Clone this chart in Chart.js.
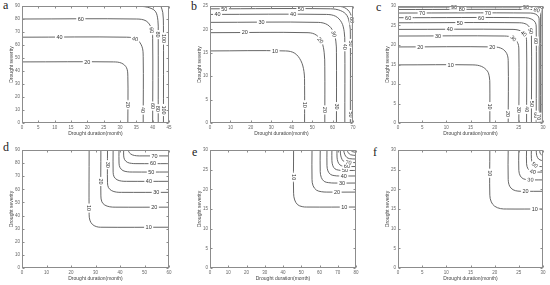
<!DOCTYPE html>
<html><head><meta charset="utf-8">
<script src="https://cdn.jsdelivr.net/npm/chart.js@4"></script>
<style>
body{margin:0;background:#fff;width:550px;height:285px;position:relative;overflow:hidden;font-family:"Liberation Sans",Arial,sans-serif}
canvas{position:absolute}
.lab{position:absolute;font-family:"Liberation Serif","DejaVu Serif",serif;font-size:12px;color:#222;line-height:1}
</style></head><body>
<div class="lab" style="left:3px;top:-1px">a</div>
<div class="lab" style="left:191px;top:0px">b</div>
<div class="lab" style="left:376px;top:1px">c</div>
<div class="lab" style="left:3px;top:141px">d</div>
<div class="lab" style="left:192px;top:146px">e</div>
<div class="lab" style="left:373px;top:146px">f</div>
<script>
// ---- data ----
const xLabel = 'Drought duration(month)';
const yLabel = 'Drought severity';
const xMax = [45, 70, 30, 60, 80, 30];
const yMax = [90, 25, 30, 90, 30, 30];
const xStep = [5, 10, 5, 10, 10, 5];
const yStep = [10, 5, 5, 10, 5, 5];

const levelsA = [20, 40, 60, 80, 100];
const contoursA = [
  [[0,47],[28,47],[30.5,46],[32,42.5],[32.4,36],[32.4,0]],
  [[0,66],[32,66],[35,64.5],[36.7,59],[37.1,51],[37.1,0]],
  [[0,80],[35,80],[38,78.5],[39.6,73],[40,65],[40,0]],
  [[35,90],[38.5,89],[40.8,86],[41.6,79],[41.7,70],[41.7,0]],
  [[42.5,90],[43.1,85],[43.3,75],[43.3,0]]
];
const labelsA = [[20,20,47],[40,11.5,66],[60,18,80],[40,34.5,63],[60,38.8,71],[80,41.7,68],[100,43.3,65],
  [20,32.4,14],[40,37.1,10],[60,40,13],[80,41.7,11],[100,43.3,10]];

const levelsB = [10, 20, 30, 40, 50, 60];
const contoursB = [
  [[0,15.4],[37,15.4],[41.5,14.9],[44.5,13.3],[46,11],[46.3,8],[46.3,0]],
  [[0,19.3],[48,19.3],[52,18.8],[54.7,17.3],[55.9,15],[56.2,12],[56.2,0]],
  [[0,21.5],[53,21.5],[57.5,21],[60.3,19.6],[61.6,17.5],[61.9,15],[61.9,0]],
  [[0,23.2],[57,23.2],[61.5,22.8],[64.4,21.5],[65.7,19.5],[66,17],[66,0]],
  [[0,24.4],[59,24.4],[64,24],[67,23],[68.4,21],[68.7,19],[68.7,0]],
  [[60,25],[65,24.8],[68.2,23.8],[69.5,22],[69.7,19],[69.7,0]]
];
const labelsB = [[10,31.8,15.4],[10,46.3,3.9],[20,17,19.3],[20,53.5,17.5],[20,56.2,2.8],[30,25.2,21.5],[30,60.5,19],[30,61.9,3.5],
  [40,3.7,23.2],[40,40.7,23.2],[40,66,16.3],[50,7,24.4],[50,44.5,24.4],[50,68.7,17],[50,68.7,1.8],[60,69.7,22]];

const levelsC = [10, 20, 30, 40, 50, 60, 70, 80, 90];
const contoursC = [
  [[0,14.9],[15.5,14.9],[17.3,14.5],[18.5,13.3],[18.9,11.8],[19,10],[19,0]],
  [[0,19.5],[20,19.5],[21.6,19],[22.5,17.8],[22.8,16],[22.8,0]],
  [[0,22.3],[22,22.3],[23.7,21.9],[24.7,20.7],[25,19],[25,0]],
  [[0,24],[23.8,24],[25.4,23.6],[26.3,22.6],[26.6,21],[26.6,0]],
  [[0,25.7],[25.2,25.7],[26.6,25.3],[27.3,24.4],[27.6,23],[27.6,0]],
  [[0,27],[26.4,27],[27.7,26.6],[28.4,25.8],[28.6,24.6],[28.6,0]],
  [[0,28.2],[27.4,28.2],[28.5,27.9],[29.1,27.2],[29.2,26.2],[29.2,0]],
  [[0,29.1],[28.3,29.1],[29.1,28.8],[29.45,28.2],[29.5,27.4],[29.5,0]],
  [[0,29.7],[29,29.7],[29.6,29.5],[29.8,29],[29.8,0]]
];
const labelsC = [[10,10.9,14.9],[10,19,4.2],[20,4.6,19.5],[20,19.5,19.5],[20,22.8,2.3],[30,8.3,22.3],[30,23.8,21.6],[30,25,3.4],
  [40,10.7,24],[40,26,22.9],[40,26.6,3.5],[50,12.8,25.7],[50,27.3,23.5],[50,27.6,4.9],[60,2.1,27],[60,17.2,27],[60,28.6,2],[60,28.6,21],
  [70,5,28.2],[70,18.6,28.2],[70,29.2,1.5],[80,13.2,29.1],[80,28.6,28.6],[90,11.6,29.7],[90,26.5,29.7]];

const levelsD = [10, 20, 30, 40, 50, 60, 70];
const contoursD = [
  [[27.4,90],[27.4,41],[27.7,36.5],[28.7,33.3],[30.3,31.6],[32,31.1],[60,31.1]],
  [[32.2,90],[32.2,55],[32.6,50.5],[33.8,48],[35.8,46.7],[38,46.4],[60,46.4]],
  [[34.9,90],[34.9,65],[35.3,61.3],[36.6,59],[38.5,57.9],[40.6,57.7],[60,57.7]],
  [[37.2,90],[37.2,73],[37.6,69.5],[38.8,67.3],[40.6,66.3],[42.6,66.1],[60,66.1]],
  [[39.6,90],[39.6,80],[40,76.6],[41.2,74.3],[43,73.4],[45,73.2],[60,73.2]],
  [[41.5,90],[41.5,85.5],[41.9,82.6],[43,80.6],[44.7,79.8],[46.5,79.6],[60,79.6]],
  [[43.3,90],[43.8,88],[45,86.3],[46.8,85.6],[49,85.5],[60,85.5]]
];
const labelsD = [[10,27.4,45.7],[10,51.7,31.1],[20,32.2,66],[20,54,46.4],[30,34.9,78.8],[30,54.8,57.7],
  [40,51.8,66.1],[50,52.8,73.2],[60,53.5,79.6],[70,54.1,85.5]];

const levelsE = [10, 20, 30, 40, 50, 60, 70, 80, 90, 100];
const contoursE = [
  [[45.8,30],[45.8,19],[46.4,17.3],[48,16.1],[50.5,15.6],[53,15.5],[80,15.5]],
  [[55.9,30],[55.9,22.5],[56.5,20.9],[58.3,19.8],[61,19.4],[64,19.3],[80,19.3]],
  [[60.4,30],[60.4,24.5],[61,23],[62.6,22],[65,21.7],[68,21.6],[80,21.6]],
  [[64.1,30],[64.1,26],[64.6,24.7],[66,23.8],[68,23.5],[70.5,23.4],[80,23.4]],
  [[66.8,30],[66.8,27.3],[67.3,26],[68.5,25.2],[70.3,24.9],[72.5,24.8],[80,24.8]],
  [[69.6,30],[69.6,28.2],[70.1,27],[71.2,26.2],[72.8,25.9],[74.5,25.8],[80,25.8]],
  [[71.4,30],[71.5,29],[72,28],[73,27.2],[74.5,26.9],[76,26.8],[80,26.8]],
  [[73.2,30],[73.8,28.9],[75,28.1],[76.5,27.8],[80,27.7]],
  [[75,30],[75.8,29.3],[77,28.8],[80,28.6]],
  [[77,30],[78,29.6],[80,29.4]]
];
const labelsE = [[10,45.8,23.1],[10,73.6,15.5],[20,69.6,19.3],[30,72.3,21.6],[40,73.3,23.4],[50,74,24.9],[60,75,26],[70,76,27]];

const levelsF = [10, 20, 30, 40, 50, 60, 70];
const contoursF = [
  [[19,30],[19,18.5],[19.3,16.8],[20,15.7],[21.2,15.1],[22.5,15],[30,15]],
  [[22.8,30],[22.8,22.5],[23.1,20.8],[23.8,19.9],[24.8,19.55],[26,19.5],[30,19.5]],
  [[25,30],[25,24.8],[25.3,23.4],[25.9,22.7],[26.8,22.45],[28,22.4],[30,22.4]],
  [[26.6,30],[26.6,26.5],[26.9,25.2],[27.5,24.6],[28.3,24.4],[30,24.4]],
  [[27.6,30],[27.6,27.8],[27.9,26.6],[28.5,26],[29.3,25.8],[30,25.8]],
  [[28.6,30],[28.7,28.6],[29.1,27.7],[29.7,27.35],[30,27.3]],
  [[29.3,30],[29.4,29.2],[29.8,28.6],[30,28.5]]
];
const labelsF = [[10,19,24.1],[10,28.3,15],[20,26.4,19.5],[30,27.4,22.4],[40,27.9,24.5],[50,28.3,26.2]];

// ---- layout ----
const boxes = [
  {L:22,R:169,T:6,B:123},{L:210,R:353,T:6,B:123},{L:398,R:543,T:6,B:123},
  {L:22,R:169,T:150,B:268},{L:210,R:356,T:150,B:268},{L:398,R:543,T:150,B:268}];
const WY=22, HX=16, PT=6, PR=7;
const FONT = '"Liberation Sans", Arial, sans-serif';
const LINE = '#555';

const framePlugin = {
  id:'frame',
  afterDraw(chart){
    const {ctx, chartArea:a, scales:{x,y}} = chart;
    ctx.save();
    ctx.strokeStyle='#8c8c8c'; ctx.lineWidth=1;
    const l=Math.round(a.left)+0.5, r=Math.round(a.right)-0.5, t=Math.round(a.top)+0.5, b=Math.round(a.bottom)-0.5;
    ctx.strokeRect(l,t,r-l,b-t);
    ctx.beginPath();
    for(const tk of x.ticks){const p=Math.round(x.getPixelForValue(tk.value))+0.5; ctx.moveTo(p,b); ctx.lineTo(p,b-2); ctx.moveTo(p,t); ctx.lineTo(p,t+2);}
    for(const tk of y.ticks){const p=Math.round(y.getPixelForValue(tk.value))+0.5; ctx.moveTo(l,p); ctx.lineTo(l+2,p); ctx.moveTo(r,p); ctx.lineTo(r-2,p);}
    ctx.stroke();
    ctx.restore();
  }
};

const labelPlugin = {
  id:'clabels',
  afterDatasetsDraw(chart, args, opts){
    const ctx = chart.ctx;
    ctx.save();
    ctx.font = '5.5px ' + FONT;
    ctx.textAlign='center'; ctx.textBaseline='middle';
    for(const [lev, vx, vy] of opts.items){
      const di = opts.levels.indexOf(lev);
      const pts = chart.getDatasetMeta(di).data;
      const px = chart.scales.x.getPixelForValue(vx), py = chart.scales.y.getPixelForValue(vy);
      let best=null;
      for(let i=0;i<pts.length-1;i++){
        const ax=pts[i].x, ay=pts[i].y, dx=pts[i+1].x-ax, dy=pts[i+1].y-ay, len2=dx*dx+dy*dy;
        if(!len2) continue;
        let t=((px-ax)*dx+(py-ay)*dy)/len2; t=Math.max(0,Math.min(1,t));
        const qx=ax+t*dx, qy=ay+t*dy, d=(qx-px)**2+(qy-py)**2;
        if(!best||d<best.d) best={d,qx,qy,ang:Math.atan2(dy,dx)};
      }
      if(!best) continue;
      let ang=best.ang;
      if(ang>Math.PI/2+1e-6) ang-=Math.PI;
      if(ang<=-Math.PI/2+1e-6) ang+=Math.PI;
      const txt=String(lev), w=ctx.measureText(txt).width;
      ctx.save(); ctx.translate(best.qx,best.qy); ctx.rotate(ang);
      ctx.fillStyle='#fff'; ctx.fillRect(-w/2-1.5,-2.6,w+3,5.2);
      ctx.fillStyle='#333'; ctx.fillText(txt,0,0.3);
      ctx.restore();
    }
    ctx.restore();
  }
};

const panelLevels=[levelsA,levelsB,levelsC,levelsD,levelsE,levelsF];
const panelContours=[contoursA,contoursB,contoursC,contoursD,contoursE,contoursF];
const panelLabels=[labelsA,labelsB,labelsC,labelsD,labelsE,labelsF];

boxes.forEach((bx,i)=>{
  const cv=document.createElement('canvas');
  const W=WY+(bx.R-bx.L)+PR, H=PT+(bx.B-bx.T)+HX;
  cv.width=W; cv.height=H;
  cv.style.left=(bx.L-WY)+'px'; cv.style.top=(bx.T-PT)+'px';
  cv.style.width=W+'px'; cv.style.height=H+'px';
  document.body.appendChild(cv);
  new Chart(cv,{
    type:'scatter',
    data:{datasets:panelContours[i].map((c,k)=>({
      label:String(panelLevels[i][k]),
      data:c.map(p=>({x:p[0],y:p[1]})),
      showLine:true, pointRadius:0, borderColor:LINE, borderWidth:0.9, tension:0.35, fill:false
    }))},
    options:{
      responsive:false, animation:false, devicePixelRatio:1,
      layout:{padding:{left:0,top:PT,right:PR,bottom:0}},
      plugins:{legend:{display:false},tooltip:{enabled:false},
        clabels:{items:panelLabels[i],levels:panelLevels[i]}},
      scales:{
        x:{type:'linear',min:0,max:xMax[i],
           ticks:{stepSize:xStep[i],padding:2,color:'#666',font:{size:4.5,family:FONT}},
           grid:{display:false,drawTicks:false},border:{display:false},
           title:{display:true,text:xLabel,color:'#444',font:{size:5,family:FONT},padding:{top:0,bottom:2}},
           afterFit(s){s.height=HX;}},
        y:{type:'linear',min:0,max:yMax[i],
           ticks:{stepSize:yStep[i],padding:2,color:'#666',font:{size:4.5,family:FONT}},
           grid:{display:false,drawTicks:false},border:{display:false},
           title:{display:true,text:yLabel,color:'#444',font:{size:5,family:FONT},padding:{top:9,bottom:0}},
           afterFit(s){s.width=WY;}}
      }
    },
    plugins:[framePlugin,labelPlugin]
  });
});
</script>
</body></html>
